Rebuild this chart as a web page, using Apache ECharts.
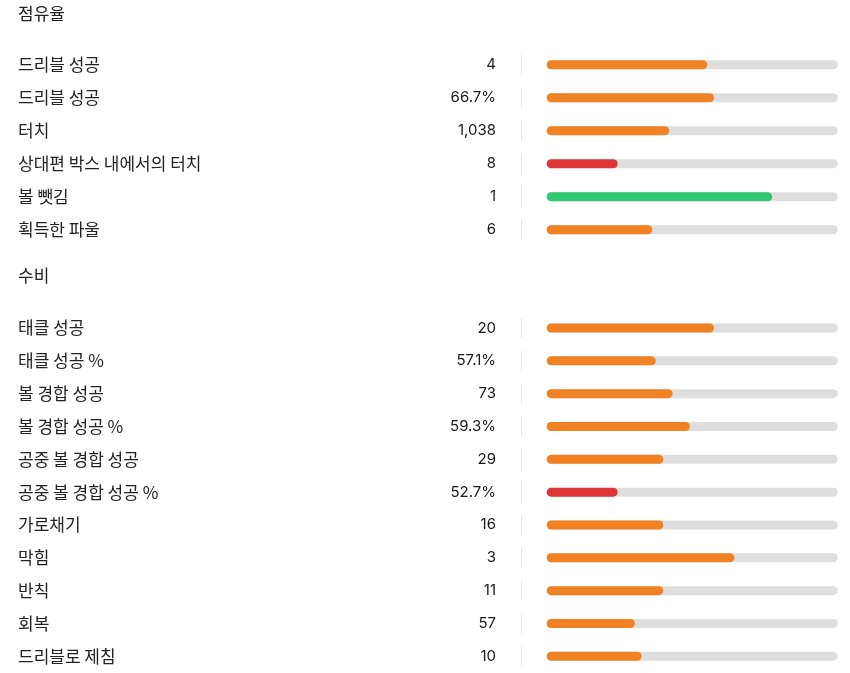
<!DOCTYPE html>
<html><head><meta charset="utf-8">
<script src="https://cdn.jsdelivr.net/npm/echarts@6/dist/echarts.min.js"></script>
<style>html,body{margin:0;padding:0;background:#fff}#c{width:850px;height:673px}</style>
</head><body><div id="c"></div>
<script>
// Section titles
const sectionTitles = ['점유율', '수비'];
// Possession section
const possLabels = ['드리블 성공', '드리블 성공', '터치', '상대편 박스 내에서의 터치', '볼 뺏김', '획득한 파울'];
const possValues = ['4', '66.7%', '1,038', '8', '1', '6'];
const possFill = [55.2, 57.5, 42.1, 24.4, 77.5, 36.3];
const possColor = ['orange', 'orange', 'orange', 'red', 'green', 'orange'];
// Defense section
const defLabels = ['태클 성공', '태클 성공 %', '볼 경합 성공', '볼 경합 성공 %', '공중 볼 경합 성공', '공중 볼 경합 성공 %', '가로채기', '막힘', '반칙', '회복', '드리블로 제침'];
const defValues = ['20', '57.1%', '73', '59.3%', '29', '52.7%', '16', '3', '11', '57', '10'];
const defFill = [57.5, 37.5, 43.3, 49.2, 40.1, 24.4, 40.1, 64.5, 40.1, 30.3, 32.6];
const defColor = ['orange', 'orange', 'orange', 'orange', 'orange', 'red', 'orange', 'orange', 'orange', 'orange', 'orange'];

const palette = { orange: '#F08224', red: '#DD3636', green: '#32C873' };
const labelFont = '"Noto Sans CJK KR", "Noto Sans", sans-serif';
const numFont = 'Inter, "Noto Sans", sans-serif';

const grids = [
  { left: 546.7, right: 12.3, top: 48.2, height: 198 },
  { left: 546.7, right: 12.3, top: 311.6, height: 361.1 }
];
const sections = [
  { labels: possLabels, values: possValues, fill: possFill, color: possColor },
  { labels: defLabels, values: defValues, fill: defFill, color: defColor }
];

const xAxis = [], yAxis = [], series = [];
sections.forEach((s, gi) => {
  const idx = s.labels.map((_, i) => i);
  xAxis.push({ gridIndex: gi, type: 'value', min: 0, max: 100, show: false });
  // category name axis
  yAxis.push({
    gridIndex: gi, type: 'category', inverse: true, data: idx,
    axisLine: { show: false }, axisTick: { show: false }, splitLine: { show: false },
    axisLabel: { align: 'left', margin: 546.7 - 18, color: '#222', fontSize: 17, fontFamily: labelFont,
      formatter: v => s.labels[v] }
  });
  // value axis
  yAxis.push({
    gridIndex: gi, type: 'category', inverse: true, data: idx, position: 'left',
    axisLine: { show: false }, axisTick: { show: false }, splitLine: { show: false },
    axisLabel: { align: 'right', margin: 546.7 - 496, color: '#1a1a1a', fontSize: 15, fontFamily: numFont,
      formatter: v => s.values[v] }
  });
  const yMain = gi * 2;
  series.push({
    type: 'bar', xAxisIndex: gi, yAxisIndex: yMain, barWidth: 9,
    showBackground: true,
    backgroundStyle: { color: '#DEDEDE', borderRadius: 5 },
    itemStyle: { borderRadius: 5 },
    data: s.fill.map((v, i) => ({ value: v, itemStyle: { color: palette[s.color[i]] } })),
    silent: true, animation: false
  });
  series.push({
    type: 'custom', xAxisIndex: gi, yAxisIndex: yMain, silent: true, animation: false,
    data: idx.map(i => [0, i]),
    renderItem: (params, api) => {
      const p = api.coord([0, api.value(1)]);
      const x = Math.round(p[0] - 26) + 0.5;
      return { type: 'line', shape: { x1: x, y1: p[1] - 10, x2: x, y2: p[1] + 10 },
        style: { stroke: '#E6E6E6', lineWidth: 1 } };
    }
  });
});

const chart = echarts.init(document.getElementById('c'), null, { renderer: 'canvas' });
chart.setOption({
  animation: false,
  grid: grids,
  xAxis, yAxis, series,
  graphic: [
    { type: 'text', left: 18, top: 5, style: { text: sectionTitles[0], fill: '#222', font: '17px ' + labelFont } },
    { type: 'text', left: 18, top: 267, style: { text: sectionTitles[1], fill: '#222', font: '17px ' + labelFont } }
  ]
});
</script></body></html>
